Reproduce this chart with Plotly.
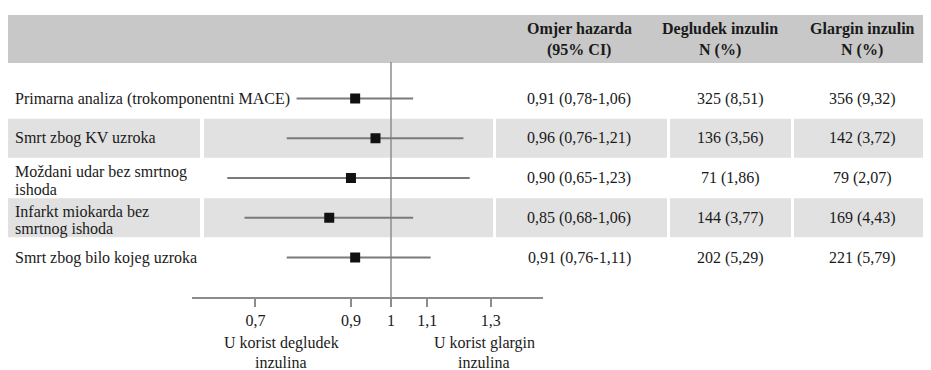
import plotly.graph_objects as go

# ---------------- data ----------------
labels = [
    ["Primarna analiza (trokomponentni MACE)"],
    ["Smrt zbog KV uzroka"],
    ["Moždani udar bez smrtnog", "ishoda"],
    ["Infarkt miokarda bez", "smrtnog ishoda"],
    ["Smrt zbog bilo kojeg uzroka"],
]
hr = [0.91, 0.96, 0.90, 0.85, 0.91]
ci_lo = [0.78, 0.76, 0.65, 0.68, 0.76]
ci_hi = [1.06, 1.21, 1.23, 1.06, 1.11]
deg_n = [325, 136, 71, 144, 202]
deg_pct = [8.51, 3.56, 1.86, 3.77, 5.29]
gla_n = [356, 142, 79, 169, 221]
gla_pct = [9.32, 3.72, 2.07, 4.43, 5.79]
tick_vals = [0.7, 0.9, 1, 1.1, 1.3]
tick_text = ["0,7", "0,9", "1", "1,1", "1,3"]
headers = [["Omjer hazarda", "(95% CI)"], ["Degludek inzulin", "N (%)"], ["Glargin inzulin", "N (%)"]]
favour_left = ["U korist degludek", "inzulina"]
favour_right = ["U korist glargin", "inzulina"]

# ---------------- geometry (page pixels; page has an 8px body margin) ----------------
OFF = 8
W, H = 931 - OFF, 370 - OFF
AX_Y = 297
ROW0, ROWSTEP = 98.5, 39.75
X_LEFT, X_RIGHT = 192, 543
X_ONE = 391
PX_PER_DEC = 875.0

def fmt(v, nd=2):
    return f"{v:.{nd}f}".replace(".", ",")

def py(p):  # page pixel y -> paper
    return 1 - (p - OFF) / H

def pxx(p):  # page pixel x -> paper
    return (p - OFF) / W

SERIF = "Times New Roman"
TXT = "#1a1a1a"
n = len(hr)
rows = list(range(n))

fig = go.Figure()

# reference line at 1
fig.add_trace(go.Scatter(
    x=[1, 1], y=[(62 - ROW0) / ROWSTEP, (AX_Y - ROW0) / ROWSTEP],
    mode="lines", line=dict(color="#8c8c8c", width=1.5),
    hoverinfo="skip", showlegend=False, cliponaxis=False))

# CIs + point estimates
fig.add_trace(go.Scatter(
    x=hr, y=rows, mode="markers",
    marker=dict(symbol="square", size=10, color="#111111"),
    error_x=dict(type="data", symmetric=False,
                 array=[h - m for h, m in zip(ci_hi, hr)],
                 arrayminus=[m - l for m, l in zip(hr, ci_lo)],
                 color="#7a7a7a", thickness=2, width=0),
    showlegend=False, cliponaxis=False))

shapes = []
shapes.append(dict(type="rect", xref="paper", yref="paper",
                   x0=pxx(8), x1=pxx(931), y0=py(63), y1=py(15),
                   fillcolor="#c8c8c8", line_width=0, layer="below"))
segments = [(8, 200), (204, 493), (496, 667), (670, 791), (794, 931)]
for i in rows:
    if i % 2 == 1:
        cy = ROW0 + ROWSTEP * i
        for a, b in segments:
            shapes.append(dict(type="rect", xref="paper", yref="paper",
                               x0=pxx(a), x1=pxx(b), y0=py(cy + 19.5), y1=py(cy - 19.5),
                               fillcolor="#e1e1e1", line_width=0, layer="below"))

ann = []
def text(x, y, s, anchor="center", bold=False, size=16):
    ann.append(dict(x=pxx(x), y=py(y), xref="paper", yref="paper",
                    text=(f"<b>{s}</b>" if bold else s),
                    showarrow=False, xanchor=anchor, yanchor="middle",
                    font=dict(family=SERIF, size=size, color=TXT)))

hdr_x = [579, 720, 862]
for hx, lines in zip(hdr_x, headers):
    text(hx, 29, lines[0], bold=True)
    text(hx, 50, lines[1], bold=True)

for i in rows:
    cy = ROW0 + ROWSTEP * i
    lines = labels[i]
    if len(lines) == 1:
        text(13, cy, lines[0], anchor="left")
    else:
        text(13, cy - 6.5, lines[0], anchor="left")
        text(13, cy + 11.5, lines[1], anchor="left")
    text(579, cy, f"{fmt(hr[i])} ({fmt(ci_lo[i])}-{fmt(ci_hi[i])})")
    text(730, cy, f"{deg_n[i]} ({fmt(deg_pct[i])})")
    text(862, cy, f"{gla_n[i]} ({fmt(gla_pct[i])})")

text(281, 343, favour_left[0])
text(281, 362, favour_left[1])
text(484, 343, favour_right[0])
text(484, 362, favour_right[1])

fig.update_layout(
    width=W, height=H,
    margin=dict(l=0, r=0, t=0, b=0),
    paper_bgcolor="white", plot_bgcolor="rgba(0,0,0,0)",
    font=dict(family=SERIF, size=16, color=TXT),
    shapes=shapes, annotations=ann,
    xaxis=dict(type="log", domain=[pxx(X_LEFT), pxx(X_RIGHT)],
               range=[(X_LEFT - X_ONE) / PX_PER_DEC, (X_RIGHT - X_ONE) / PX_PER_DEC],
               tickvals=tick_vals, ticktext=tick_text,
               showline=True, linecolor="#8c8c8c", linewidth=2,
               ticks="outside", ticklen=8, tickwidth=2, tickcolor="#8c8c8c",
               tickfont=dict(family=SERIF, size=16, color=TXT),
               showgrid=False, zeroline=False, fixedrange=True),
    yaxis=dict(domain=[1 - (AX_Y - OFF) / H, 1],
               range=[(AX_Y - ROW0) / ROWSTEP, (OFF - ROW0) / ROWSTEP],
               visible=False, showgrid=False, zeroline=False, fixedrange=True),
)

fig.write_html("out.html")
